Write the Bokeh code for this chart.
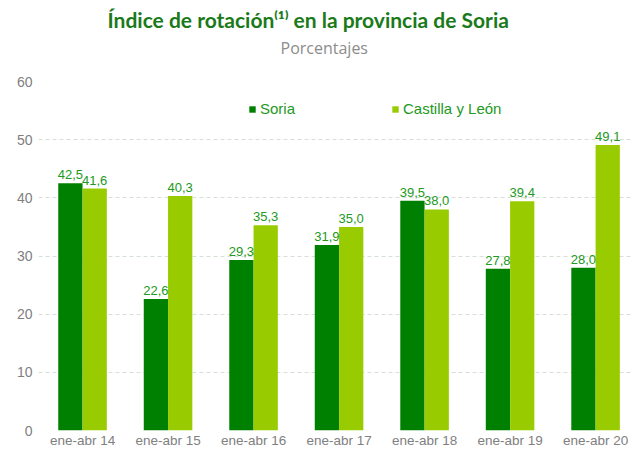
from bokeh.plotting import figure
from bokeh.models import (ColumnDataSource, Legend, LegendItem, FixedTicker, Title,
                          LabelSet, Range1d)
from bokeh.core.properties import value
from bokeh.embed import file_html
from bokeh.resources import INLINE

periods = ["ene-abr 14", "ene-abr 15", "ene-abr 16", "ene-abr 17",
           "ene-abr 18", "ene-abr 19", "ene-abr 20"]
soria = [42.5, 22.6, 29.3, 31.9, 39.5, 27.8, 28.0]
cyl = [41.6, 40.3, 35.3, 35.0, 38.0, 39.4, 49.1]
series_names = ["Soria", "Castilla y León"]

DARK = "#008000"
LIGHT = "#99cc00"
LABEL_GREEN = "#229922"
GRID = "#d6e0d6"
TICK_GRAY = "#808080"

idx = list(range(len(periods)))
off = 0.142
w = 0.284

def fmt(v):
    return f"{v:.1f}".replace(".", ",")

src_s = ColumnDataSource(dict(x=[i - off for i in idx], top=soria,
                              lab=[fmt(v) for v in soria]))
src_c = ColumnDataSource(dict(x=[i + off for i in idx], top=cyl,
                              lab=[fmt(v) for v in cyl]))

p = figure(width=631, height=450, output_backend="svg", toolbar_location=None,
           x_range=Range1d(-0.515, 6.42), y_range=Range1d(0, 60),
           min_border_left=38, min_border_right=0, min_border_bottom=19,
           min_border_top=0)
p.outline_line_color = None
p.background_fill_color = "white"
p.border_fill_color = "white"

r1 = p.vbar(x="x", top="top", width=w, source=src_s, fill_color=DARK,
            line_color=None)
r2 = p.vbar(x="x", top="top", width=w, source=src_c, fill_color=LIGHT,
            line_color=None)

for src in (src_s, src_c):
    p.add_layout(LabelSet(x="x", y="top", text="lab", source=src,
                          text_align="center", text_baseline="bottom",
                          y_offset=4, text_font=value("Liberation Sans"),
                          text_font_size="13px", text_color=LABEL_GREEN))

p.xgrid.grid_line_color = None
p.ygrid.grid_line_color = GRID
p.ygrid.grid_line_dash = "4 3"
p.ygrid.grid_line_width = 1
p.yaxis.ticker = FixedTicker(ticks=[0, 10, 20, 30, 40, 50, 60])
p.xaxis.ticker = FixedTicker(ticks=idx)
p.xaxis.major_label_overrides = {i: s for i, s in zip(idx, periods)}

for ax in (p.xaxis[0], p.yaxis[0]):
    ax.axis_line_color = None
    ax.major_tick_line_color = None
    ax.minor_tick_line_color = None
    ax.major_tick_out = 0
    ax.major_tick_in = 0
    ax.minor_tick_out = 0
    ax.minor_tick_in = 0
    ax.major_label_text_font = "Liberation Sans"
    ax.major_label_text_font_size = "14px"
    ax.major_label_text_color = TICK_GRAY
p.xaxis.major_label_text_font_size = "13.5px"
p.yaxis.major_label_standoff = 6
p.xaxis.major_label_standoff = 2

legend = Legend(items=[LegendItem(label=series_names[0], renderers=[r1]),
                       LegendItem(label=series_names[1], renderers=[r2])],
                orientation="horizontal", location=(210, 313),
                glyph_width=8, glyph_height=8, spacing=96, padding=0,
                margin=0, label_standoff=4,
                label_text_font="Liberation Sans", label_text_font_size="15px",
                label_text_color=LABEL_GREEN, border_line_color=None,
                background_fill_alpha=0)
p.add_layout(legend)

p.add_layout(Title(text=" ", text_font_size="15px", standoff=2), "above")
p.add_layout(Title(text="Porcentajes", align="left", offset=242,
                   text_font="Open Sans", text_font_size="16px",
                   text_font_style="normal", text_color="#8c8c8c",
                   standoff=4), "above")
p.add_layout(Title(text="Índice de rotación⁽¹⁾ en la provincia de Soria",
                   align="left", offset=69, text_font="Lato",
                   text_font_size="21px", text_font_style="bold",
                   text_color="#1a7a1a", standoff=1), "above")
p.add_layout(Title(text=" ", text_font_size="2px", standoff=0), "above")

open("out.html", "w").write(file_html(p, INLINE))
